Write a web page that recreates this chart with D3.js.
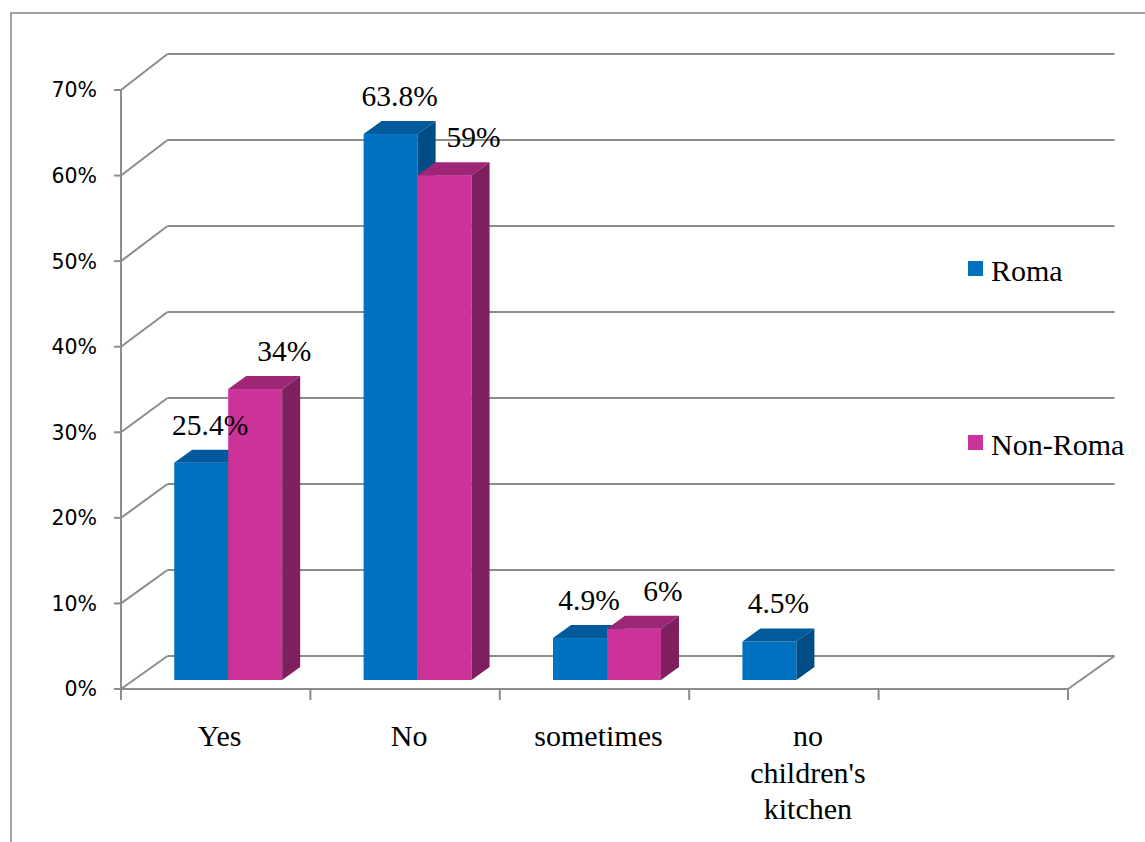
<!DOCTYPE html>
<html><head><meta charset="utf-8">
<script src="https://cdn.jsdelivr.net/npm/d3@7"></script>
<style>html,body{margin:0;padding:0;background:#fff;}svg{display:block;}</style>
</head><body>
<script>
// ---- data ----
const categories = ["Yes", "No", "sometimes", "no children's kitchen", ""];
const seriesNames = ["Roma", "Non-Roma"];
const romaValues = [25.4, 63.8, 4.9, 4.5, null];
const nonRomaValues = [34, 59, 6, null, null];
const yTicks = [0, 10, 20, 30, 40, 50, 60, 70];

const W = 1145, H = 842;
const serif = "'Liberation Serif', 'Times New Roman', serif";
const svg = d3.select("body").append("svg").attr("width", W).attr("height", H);

// outer border (chart area frame, cropped at right/bottom)
svg.append("rect").attr("x", 11).attr("y", 13).attr("width", W + 20).attr("height", H + 20)
  .attr("fill", "none").attr("stroke", "#8c8c8c").attr("stroke-width", 1.6);

// scales (front plane)
const x = d3.scaleBand().domain(categories).range([121, 1068]).paddingInner(0).paddingOuter(0);
const y = d3.scaleLinear().domain([0, 70]).range([689, 90]);
// depth vector for the back wall
const DX = 46.5, DYtop = -36, DYbot = -33;
const depthDy = v => DYbot + (DYtop - DYbot) * (v / 70);

const gridColor = "#8c8c8c";
const g = svg.append("g");

// back wall gridlines + side wall diagonals
yTicks.forEach(v => {
  const fy = y(v), by = y(v) + depthDy(v);
  g.append("line").attr("x1", 121).attr("y1", fy).attr("x2", 121 + DX).attr("y2", by)
    .attr("stroke", gridColor).attr("stroke-width", 2);
  g.append("line").attr("x1", 121 + DX).attr("y1", by).attr("x2", 1068 + DX).attr("y2", by)
    .attr("stroke", gridColor).attr("stroke-width", 2);
});
// floor
g.append("line").attr("x1", 121).attr("y1", y(0)).attr("x2", 1068).attr("y2", y(0))
  .attr("stroke", gridColor).attr("stroke-width", 2);
g.append("line").attr("x1", 1068).attr("y1", y(0)).attr("x2", 1068 + DX).attr("y2", y(0) + DYbot)
  .attr("stroke", gridColor).attr("stroke-width", 2);
// y axis line
g.append("line").attr("x1", 121).attr("y1", y(70)).attr("x2", 121).attr("y2", y(0))
  .attr("stroke", gridColor).attr("stroke-width", 2);
// y ticks + labels
yTicks.forEach(v => {
  g.append("line").attr("x1", 114).attr("x2", 121).attr("y1", y(v)).attr("y2", y(v))
    .attr("stroke", gridColor).attr("stroke-width", 2);
  g.append("text").attr("x", 97).attr("y", y(v)).attr("dy", "0.36em")
    .attr("text-anchor", "end").attr("font-family", "'DejaVu Sans', Verdana, sans-serif")
    .attr("font-size", 20.5).attr("fill", "#000").text(v + "%");
});
// x ticks
const xEdges = categories.map(c => x(c)).concat([x.range()[1]]);
xEdges.forEach(e => {
  g.append("line").attr("x1", e).attr("x2", e).attr("y1", y(0)).attr("y2", y(0) + 11)
    .attr("stroke", gridColor).attr("stroke-width", 2);
});

// bars
const barFrac = 0.285;
const bw = x.bandwidth() * barFrac;
const offX = 12.5, offY = -9;     // bar front plane offset into depth
const bdx = 18, bdy = -13;        // bar depth
const colors = [
  {front: "#0070C0", top: "#005A9C", side: "#004C85"},
  {front: "#CC3399", top: "#9E2677", side: "#7E1F5F"}
];
const seriesVals = [romaValues, nonRomaValues];
const bars = svg.append("g");
const labels = [];
categories.forEach((c, ci) => {
  const start = x(c) + (x.bandwidth() - 2 * bw) / 2;
  seriesVals.forEach((vals, si) => {
    const v = vals[ci];
    if (v == null) return;
    const x0 = start + si * bw + offX, x1 = x0 + bw;
    const yb = y(0) + offY, yt = y(v) + offY;
    const col = colors[si];
    bars.append("rect").attr("x", x0).attr("y", yt).attr("width", bw).attr("height", yb - yt)
      .attr("fill", col.front);
    bars.append("path").attr("d", `M${x0},${yt}L${x1},${yt}L${x1 + bdx},${yt + bdy}L${x0 + bdx},${yt + bdy}Z`)
      .attr("fill", col.top);
    bars.append("path").attr("d", `M${x1},${yt}L${x1 + bdx},${yt + bdy}L${x1 + bdx},${yb + bdy}L${x1},${yb}Z`)
      .attr("fill", col.side);
    labels.push({x: (x0 + x1) / 2 + bdx / 2 + si * 20, y: yt + bdy - 15, t: v + "%"});
  });
});
// data labels
svg.append("g").selectAll("text").data(labels).join("text")
  .attr("x", d => d.x).attr("y", d => d.y).attr("text-anchor", "middle")
  .attr("font-family", serif).attr("font-size", 29.5)
  .attr("fill", "#000").text(d => d.t);

// category labels
const catG = svg.append("g");
categories.forEach(c => {
  if (!c) return;
  const cx = x(c) + x.bandwidth() / 2 + 4;
  const lines = c === "no children's kitchen" ? ["no", "children's", "kitchen"] : [c];
  const t = catG.append("text").attr("text-anchor", "middle")
    .attr("font-family", serif).attr("font-size", 30).attr("fill", "#000");
  lines.forEach((l, i) => {
    t.append("tspan").attr("x", lines.length > 1 ? cx + 20 : cx).attr("y", 746 + i * 36.5).text(l);
  });
});

// legend
const leg = svg.append("g");
const legY = [269, 443];
seriesNames.forEach((n, i) => {
  leg.append("rect").attr("x", 968).attr("y", legY[i] - 8).attr("width", 15).attr("height", 15)
    .attr("fill", colors[i].front);
  leg.append("text").attr("x", 991).attr("y", legY[i] + 12)
    .attr("font-family", serif).attr("font-size", 30)
    .attr("fill", "#000").text(n);
});
</script>
</body></html>
